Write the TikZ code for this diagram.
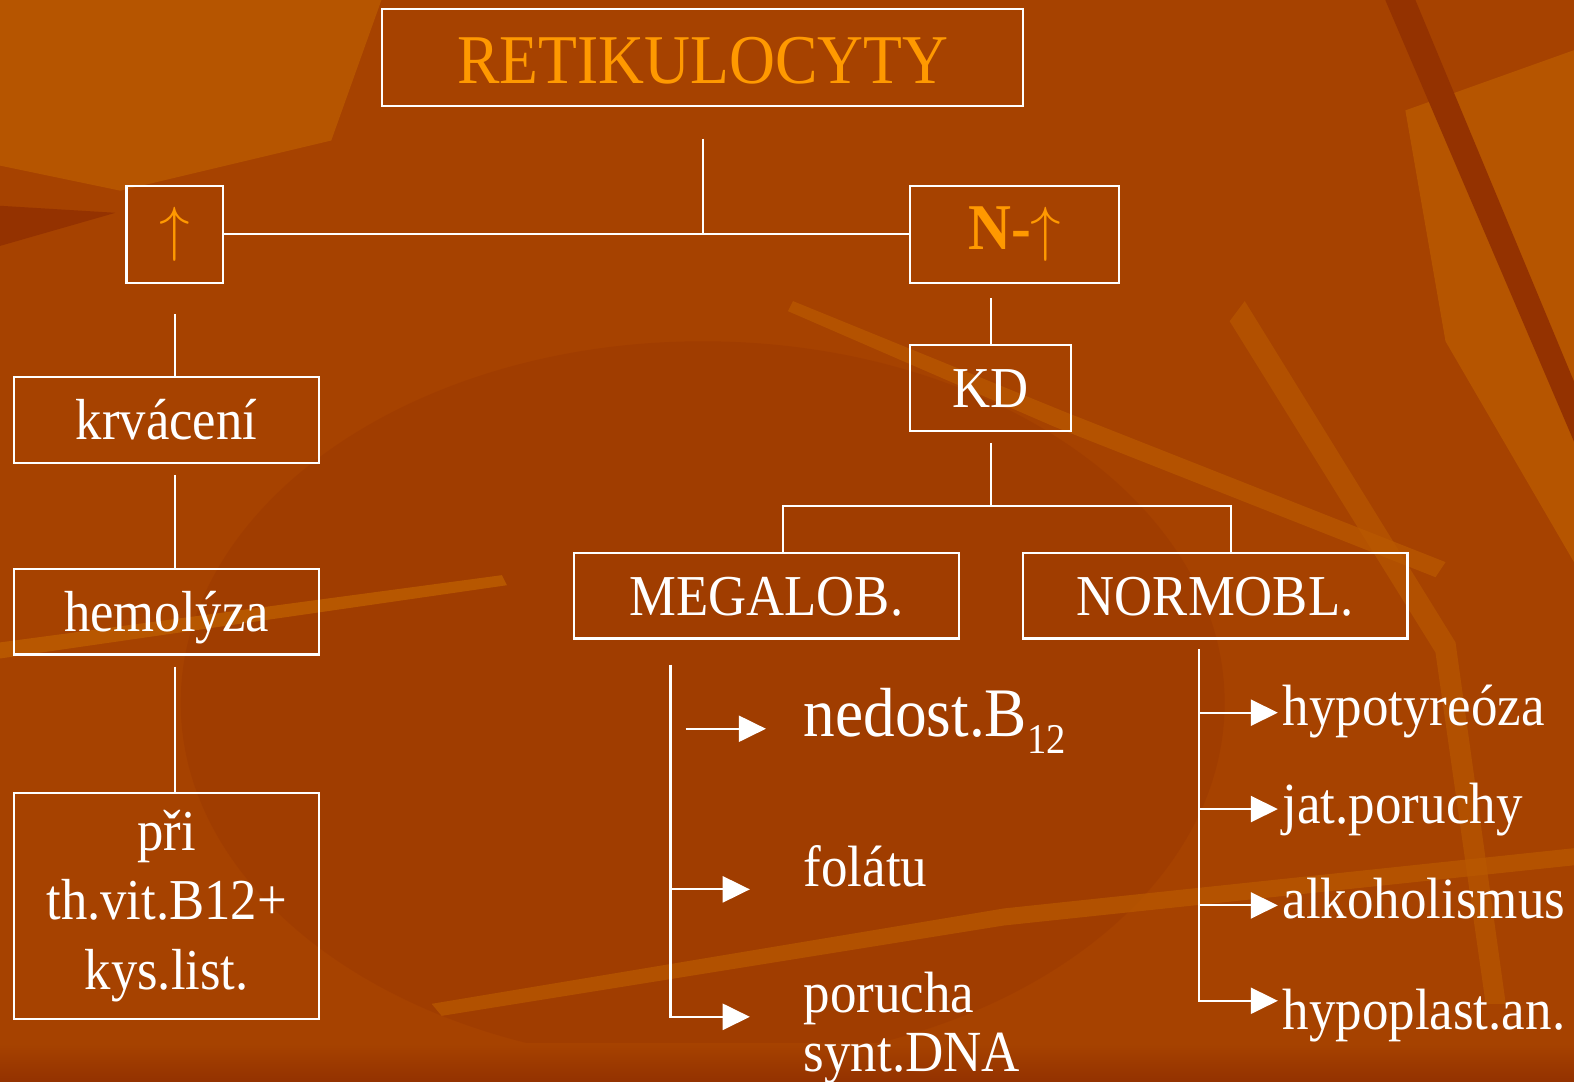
\documentclass[tikz,border=0pt]{standalone}
\usepackage{fontspec}
\setmainfont{Liberation Serif}[FakeStretch=0.91]
\usetikzlibrary{positioning,arrows.meta}
\definecolor{retibg}{RGB}{166,66,0}
\definecolor{retidark}{RGB}{148,50,0}
\definecolor{retilight}{RGB}{186,90,0}
\definecolor{retiorange}{RGB}{255,153,0}
\tikzset{
  retibox/.style={draw=white, line width=0.6pt, inner sep=0pt, text=white, align=center,
    font=\fontsize{16.4}{19.6}\selectfont, text height=14.6pt, text depth=3.4pt},
  retiline/.style={draw=white, line width=0.6pt},
  retiarrow/.style={retiline, -{Triangle[length=2.7mm, width=2.6mm]}},
  retilabel/.style={text=white, inner sep=0pt, anchor=base west,
    font=\fontsize{16.5}{16.5}\selectfont},
}

\begin{document}
\begin{tikzpicture}[x=0.01cm, y=-0.01cm]
  % pozadi
  \fill[retibg] (0,0) rectangle (1568,1077);
  \useasboundingbox (0,0) rectangle (1568,1077);
  \fill[retidark, opacity=0.3] (700,700) ellipse (520 and 360);
  \fill[retilight, opacity=0.8] (0,0) -- (380,0) -- (330,140) -- (120,190) -- (0,165) -- cycle;
  \fill[retilight, opacity=0.8] (1400,110) -- (1568,50) -- (1568,560) -- (1440,340) -- cycle;
  \fill[retidark] (0,205) -- (115,212) -- (0,245) -- cycle;
  \fill[retidark] (1380,0) -- (1410,0) -- (1568,380) -- (1568,440) -- cycle;
  \fill[retilight, opacity=0.7] (790,300) -- (1060,410) -- (1440,560) -- (1430,575) -- (1050,425) -- (785,310) -- cycle;
  \fill[retilight, opacity=0.9] (0,640) -- (500,573) -- (505,583) -- (0,656) -- cycle;
  \fill[retilight, opacity=0.7] (430,1000) -- (1000,905) -- (1568,845) -- (1568,862) -- (1000,922) -- (440,1012) -- cycle;
  \fill[retilight, opacity=0.6] (1240,300) -- (1450,640) -- (1500,1000) -- (1480,1000) -- (1430,650) -- (1225,320) -- cycle;
  \shade[top color=retibg, bottom color=retidark] (0,1040) rectangle (1568,1077);

  \node[retibox, minimum width=6.38cm, minimum height=0.97cm, text=retiorange,
    font=\fontsize{19.8}{22}\selectfont, text height=16pt, text depth=1.5pt] (title) at (700,57.5) {RETIKULOCYTY};
  \node[retibox, minimum width=0.96cm, minimum height=0.97cm, text=retiorange,
    font=\fontsize{18.5}{20}\selectfont, text height={}, text depth={}] (nup) at (174,233.5) {$\uparrow$};
  \node[retibox, minimum width=2.08cm, minimum height=0.97cm, text=retiorange,
    font=\fontsize{18.5}{20}\selectfont\bfseries, text height={}, text depth={}] (nn) at (1011,233.5) {N-$\uparrow$};
  \node[retibox, minimum width=3.04cm, minimum height=0.85cm] (krv) at (166,418.5) {krvácení};
  \node[retibox, minimum width=3.04cm, minimum height=0.85cm] (hemo) at (166,609.5) {hemolýza};
  \node[retibox, minimum width=3.04cm, minimum height=2.25cm, text height={}, text depth={}] (pri) at (166,902.5) {při\\th.vit.B12+\\kys.list.};
  \node[retibox, minimum width=1.6cm, minimum height=0.85cm] (kd) at (987,386.5) {KD};
  \node[retibox, minimum width=3.83cm, minimum height=0.85cm] (mega) at (763.5,593.5) {MEGALOB.};
  \node[retibox, minimum width=3.83cm, minimum height=0.85cm] (normo) at (1210.5,593.5) {NORMOBL.};

  \draw[retiline] ([yshift=-3.1mm]title.south) -- (title.south |- nup.east);
  \draw[retiline] (nup.east) -- (nn.west);
  \draw[retiline] ([yshift=-3mm]nup.south) -- (nup.south |- krv.north);
  \draw[retiline] ([yshift=-1.1mm]krv.south -| nup.south) -- (nup.south |- hemo.north);
  \draw[retiline] ([yshift=-1.1mm]hemo.south -| nup.south) -- (nup.south |- pri.north);
  \draw[retiline] ([yshift=-1.4mm]kd.north |- nn.south) -- (kd.north);
  \coordinate (split) at ([yshift=-7.4mm]kd.south);
  \draw[retiline] ([yshift=-1.1mm]kd.south) -- (split);
  \draw[retiline] ([xshift=1.65mm]mega.north) |- (split) -| ([xshift=1.55mm]normo.north);

  \node[retilabel, font=\fontsize{19.7}{20}\selectfont] (ned) at (800,734) {nedost.B\raisebox{-4.6pt}{\fontsize{12}{13}\selectfont 12}};
  \node[retilabel] (fol) at (800,883) {folátu};
  \node[retilabel, align=left] (por) at (800,1067) {porucha\\synt.DNA};
  \node[retilabel] (hyp) at (1277,723) {hypotyreóza};
  \node[retilabel] (jat) at (1277,820) {jat.poruchy};
  \node[retilabel] (alk) at (1277,915) {alkoholismus};
  \node[retilabel] (hpl) at (1277,1026) {hypoplast.an.};

  % megaloblasticke
  \coordinate (mtop) at (668,662);
  \coordinate (nedtail) at (683,726);
  \draw[retiarrow] (nedtail) -- ([xshift=-3.7mm]nedtail -| ned.base west);
  \draw[retiarrow] ([yshift=-0.3mm]mtop |- fol.base) -- ([xshift=-5.3mm,yshift=-0.3mm]fol.base west);
  \draw[retiarrow] (mtop) |- ([xshift=-5.3mm,yshift=5.4mm]por.base west);
  % normoblasticke
  \coordinate (ntop) at (1194,647);
  \foreach \t/\d in {hyp/1.3mm, jat/1.4mm, alk/1.3mm}
    \draw[retiarrow] ([yshift=\d]ntop |- \t.base) -- ([xshift=-0.4mm,yshift=\d]\t.base west);
  \draw[retiarrow] (ntop) |- ([xshift=-0.4mm,yshift=2.9mm]hpl.base west);
\end{tikzpicture}
\end{document}
